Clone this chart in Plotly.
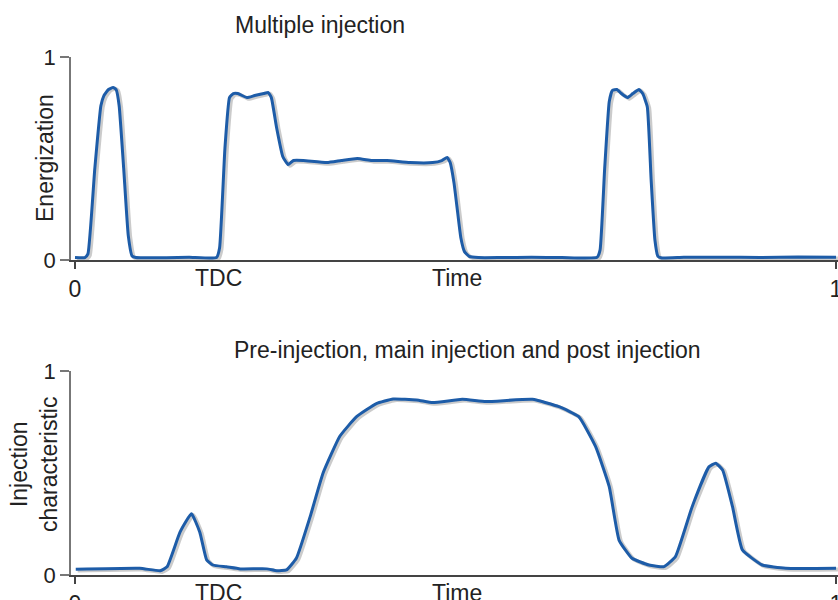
import plotly.graph_objects as go

# ---- data ----
top_x = [0.000, 0.013, 0.017, 0.026, 0.034, 0.038, 0.044, 0.050, 0.054, 0.058, 0.064, 0.070, 0.075, 0.080,
         0.120, 0.150, 0.186, 0.190, 0.197, 0.203, 0.208, 0.214, 0.226, 0.236, 0.248, 0.254, 0.258, 0.265,
         0.273, 0.280, 0.287, 0.300, 0.331, 0.350, 0.371, 0.390, 0.410, 0.440, 0.470, 0.482, 0.489, 0.493,
         0.498, 0.502, 0.507, 0.512, 0.518, 0.530, 0.560, 0.600, 0.640, 0.686, 0.690, 0.696, 0.702, 0.706,
         0.712, 0.718, 0.726, 0.733, 0.741, 0.746, 0.752, 0.757, 0.762, 0.766, 0.771, 0.800, 0.850, 0.900,
         0.950, 1.000]
top_y = [0.012, 0.012, 0.03, 0.45, 0.76, 0.81, 0.84, 0.85, 0.84, 0.76, 0.45, 0.12, 0.02, 0.012,
         0.011, 0.013, 0.012, 0.06, 0.55, 0.80, 0.82, 0.82, 0.80, 0.81, 0.82, 0.825, 0.80, 0.65,
         0.51, 0.47, 0.49, 0.49, 0.48, 0.49, 0.50, 0.49, 0.49, 0.48, 0.48, 0.49, 0.505, 0.48,
         0.38, 0.26, 0.11, 0.04, 0.018, 0.012, 0.012, 0.013, 0.012, 0.013, 0.05, 0.45, 0.78, 0.835,
         0.84, 0.82, 0.80, 0.82, 0.84, 0.82, 0.755, 0.40, 0.10, 0.018, 0.010, 0.013, 0.014, 0.012,
         0.015, 0.013]

bot_x = [0.001, 0.085, 0.112, 0.121, 0.138, 0.153, 0.164, 0.173, 0.181, 0.199, 0.217, 0.252, 0.265,
         0.278, 0.291, 0.309, 0.326, 0.348, 0.370, 0.396, 0.418, 0.449, 0.470, 0.509, 0.540, 0.601,
         0.636, 0.662, 0.684, 0.702, 0.715, 0.732, 0.754, 0.774, 0.789, 0.811, 0.833, 0.842, 0.851,
         0.864, 0.877, 0.903, 0.934, 1.000]
bot_y = [0.028, 0.033, 0.021, 0.04, 0.21, 0.30, 0.21, 0.074, 0.049, 0.04, 0.03, 0.03, 0.021,
         0.025, 0.083, 0.286, 0.50, 0.68, 0.776, 0.84, 0.863, 0.858, 0.845, 0.861, 0.85, 0.861,
         0.825, 0.776, 0.63, 0.433, 0.17, 0.082, 0.049, 0.041, 0.09, 0.335, 0.53, 0.548, 0.515,
         0.335, 0.123, 0.049, 0.033, 0.033]

x_tick_vals = [0, 1]
x_tick_text = ["0", "1"]
x_label_pos = [0.188, 0.502]
x_label_text = ["TDC", "Time"]
y_tick_vals = [0, 1]
y_tick_text = ["0", "1"]

titles = ["Multiple injection", "Pre-injection, main injection and post injection"]
y_titles = ["Energization", "Injection<br>characteristic"]

# ---- styling ----
FONT = "Liberation Sans, Arial, sans-serif"
TXT = "#222222"
BLUE = "#1d5ca8"
SHADOW = "rgba(160,160,160,0.55)"
FS = 23
W, H = 838, 600
L, R, T, B = 71, 0, 0, 0
PW = W - L - R
shift = 0.0025

fig = go.Figure()
for xs, ys, ax in [(top_x, top_y, ("x", "y")), (bot_x, bot_y, ("x2", "y2"))]:
    fig.add_trace(go.Scatter(x=[v + shift for v in xs], y=[v - 0.006 for v in ys], mode="lines",
                             line=dict(color=SHADOW, width=4, shape="spline", smoothing=0.4),
                             xaxis=ax[0], yaxis=ax[1], hoverinfo="skip", showlegend=False, cliponaxis=False))
    fig.add_trace(go.Scatter(x=xs, y=ys, mode="lines",
                             line=dict(color=BLUE, width=3, shape="spline", smoothing=0.4),
                             xaxis=ax[0], yaxis=ax[1], showlegend=False, cliponaxis=False))

xr = [-4 / 761, 1 + 2 / 761]
xcommon = dict(range=xr, showline=True, linecolor="#444444", linewidth=2, showgrid=False, zeroline=False,
               tickvals=x_tick_vals, ticktext=x_tick_text, ticks="outside", ticklen=7, tickwidth=1.5,
               tickcolor="#444444", tickfont=dict(family=FONT, size=FS, color=TXT), fixedrange=True,
               automargin=False, ticklabeloverflow="allow")
ycommon = dict(range=[0, 1], showline=True, linecolor="#777777", linewidth=1.5, showgrid=False,
               zeroline=False, tickvals=y_tick_vals, ticktext=y_tick_text, ticks="outside", ticklen=9,
               tickwidth=1.5, tickcolor="#777777", tickfont=dict(family=FONT, size=FS - 1, color=TXT),
               automargin=False, fixedrange=True)

top_dom = [(H - 260) / H, (H - 57) / H]
bot_dom = [(H - 575) / H, (H - 371) / H]

fig.update_layout(
    width=W, height=H, margin=dict(l=L, r=R, t=T, b=B, autoexpand=False),
    paper_bgcolor="white", plot_bgcolor="white",
    xaxis=dict(**xcommon, anchor="y"),
    yaxis=dict(**ycommon, domain=top_dom, anchor="x"),
    xaxis2=dict(**xcommon, anchor="y2"),
    yaxis2=dict(**ycommon, domain=bot_dom, anchor="x2"),
)

ann = []
# titles
ann.append(dict(text=titles[0], xref="paper", yref="paper", x=(320 - L) / PW, y=(H - 25) / H,
                showarrow=False, xanchor="center", yanchor="middle", font=dict(family=FONT, size=FS, color=TXT)))
ann.append(dict(text=titles[1], xref="paper", yref="paper", x=(467 - L) / PW, y=(H - 350) / H,
                showarrow=False, xanchor="center", yanchor="middle", font=dict(family=FONT, size=FS, color=TXT)))
# y titles
ann.append(dict(text=y_titles[0], xref="paper", yref="paper", x=(45 - L) / PW, y=(H - 158) / H,
                showarrow=False, textangle=-90, xanchor="center", yanchor="middle",
                font=dict(family=FONT, size=FS, color=TXT)))
ann.append(dict(text=y_titles[1], xref="paper", yref="paper", x=(34 - L) / PW, y=(H - 465) / H,
                showarrow=False, textangle=-90, xanchor="center", yanchor="middle",
                font=dict(family=FONT, size=FS, color=TXT)))
# x labels TDC / Time
for xa, ycen in [("x", 278), ("x2", 593)]:
    for pos, txt in zip(x_label_pos, x_label_text):
        ann.append(dict(text=txt, xref=xa, yref="paper", x=pos, y=(H - ycen) / H, showarrow=False,
                        xanchor="center", yanchor="middle", font=dict(family=FONT, size=FS, color=TXT)))
fig.update_layout(annotations=ann)

fig.write_html("out.html", config={"displayModeBar": False},
               post_script="document.body.style.margin='0px';document.body.style.overflow='hidden';")
